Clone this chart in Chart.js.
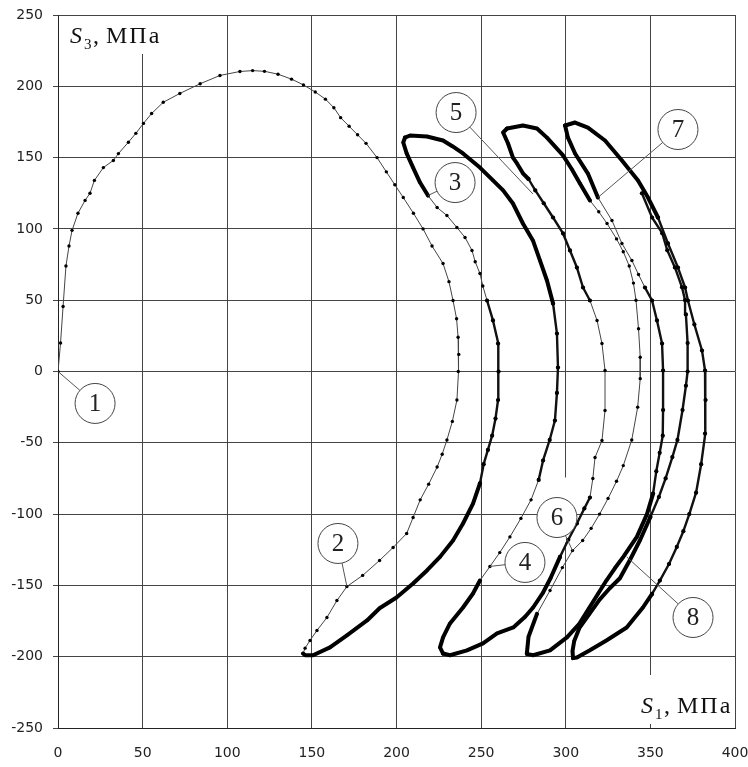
<!DOCTYPE html>
<html><head><meta charset="utf-8">
<script src="https://cdn.jsdelivr.net/npm/chart.js@4.4.0/dist/chart.umd.min.js"></script>
<style>html,body{margin:0;padding:0;background:#fff;}canvas{display:block;}</style>
</head><body>
<canvas id="c" width="748" height="767"></canvas>
<script>
const xTicks = [0,50,100,150,200,250,300,350,400];
const yTicks = [-250,-200,-150,-100,-50,0,50,100,150,200,250];

// Stress path segments [S1, S3]
const seg1 = [[0,0],[1.5,20],[3,45.6],[4.7,74],[6.5,88],[8.3,99],[11.8,111],[16,120],[18.9,125],[21.5,134],[26.8,143],[32.7,148],[35.7,152.8],[41.6,160.8],[46,167],[50.5,174],[55.3,180.9],[62.2,188.8],[72,195],[84,201.8],[95.7,207.6],[107.5,210.4],[115,211],[122,210.5],[130,208.5],[138,205],[145,201],[152,196],[158,191],[163,185],[167,178],[172,172],[177,166],[182,160],[188.5,150],[194,140],[199,131],[204,122],[210,111],[215.7,100],[221,88],[227.5,75.7],[231,63],[233.4,49.8],[235.5,37],[236.4,24],[236.8,12],[236.5,0],[235.7,-20],[233,-35],[229.8,-48],[227,-58],[224,-67],[219,-79],[214,-90],[209.8,-102.4],[206,-113.6],[198,-123.4],[190,-132.5],[180,-143],[170.7,-150.8],[164.8,-160.6],[158.9,-172.5],[153,-181.6],[148.9,-188.6],[146,-194],[144.8,-197.8]];
const seg2 = [[144.8,-197.8],[146,-199],[150.7,-199],[160.7,-193.5],[170.7,-185],[182.6,-174.6],[190,-166],[200,-158.5],[209.8,-148.7],[218,-139.5],[225.7,-130],[233.4,-118.5],[239.3,-106.6],[245.2,-92.6],[249.3,-78.5],[251.5,-65],[254,-55],[256.5,-45],[258.5,-33],[260,-20],[260.3,0],[260,19.6],[257,35.8],[253.5,49.8],[251,60],[249.3,68.7],[246.5,77],[244.6,84.9],[240.5,94],[235.7,101],[229.8,109.4],[224,115],[218.6,123.4],[213.9,132.5],[209.8,143],[206,153],[204,160.6],[205,164]];
const seg3 = [[205,164],[208,165.5],[218,164.8],[227.5,162],[233,158],[239.3,152.9],[249.3,143],[257,134],[263,127],[268.8,117.8],[274.7,103.8],[280.6,91.9],[284.8,77.8],[288.9,63.8],[292.5,47.7],[294.8,26.6],[295.4,2.8],[294.8,-15],[293.6,-34.4],[290.5,-48],[286.6,-62.4],[284,-76],[279.5,-90],[273.5,-103],[267,-116],[261,-127],[255.2,-136.7],[249.3,-146.6],[245.2,-155.7],[239.3,-165.5],[231.6,-176.7],[227.5,-186.5],[225.7,-193.5],[227.5,-197.8]];
const seg4 = [[227.5,-197.8],[231.6,-199],[241.6,-195.6],[251.1,-190.7],[259.4,-183.7],[269,-179.5],[276,-172],[280.7,-165.5],[286.6,-155],[291,-145],[296.6,-130],[301.5,-118],[306.6,-106.6],[311,-96],[314.3,-88.4],[316,-75],[317.3,-60.3],[321.4,-48.4],[323.2,-27.3],[323.2,0.7],[321.4,19.6],[318.5,35.8],[314.3,49.8],[310.2,58.9],[306.6,72.9],[302.5,84.9],[298.4,96.8],[292.5,108],[287,118],[282,127],[278,135],[274.7,139],[271.2,145.9],[268.8,150],[265.9,159.9],[263,167.6],[265.3,170.4]];
const seg5 = [[265.3,170.4],[274.7,172.5],[283,170.4],[288.9,164],[298.4,151.5],[303.5,142],[308.4,131.8],[314.3,119.9],[319.5,112],[324.4,103.8],[330,93],[334,84],[337.5,74],[340,62],[341.5,50],[343,30],[344,10],[344,-5],[342.5,-25],[339,-48],[334,-66],[330,-77],[325,-89],[320,-100],[315,-110],[310,-118.5],[304,-125.6],[298,-137.5],[290.7,-153.6],[283,-170],[278,-186],[277,-198]];
const seg6 = [[277,-198],[280.7,-199],[290.7,-195.6],[300.7,-186.5],[308,-177],[314,-165.5],[319,-156],[324,-146.6],[329,-138],[334,-130],[342,-116],[348,-100],[351.6,-85.6],[353.5,-70],[355.5,-57],[357.3,-45],[357.5,-27],[357.5,0.7],[356.9,19.6],[353.9,35.8],[351,49.8],[346.8,58.9],[343,68],[339.1,77.8],[333.2,89.8],[327.3,105.9],[319,122],[313.1,138.8],[305.5,152.9],[301.3,164],[299.6,172.5]];
const seg7 = [[299.6,172.5],[305.5,174.6],[313.1,171],[323.2,162],[333.2,148],[342.7,134],[348.6,122],[354.5,108],[360.4,89.8],[366.3,72.9],[370.5,58.9],[372.2,49.8],[376,33],[380.5,14.7],[382.3,0.7],[382.6,-20],[382.3,-43.5],[380,-65],[377,-85],[373,-100],[369.5,-112],[365.6,-123],[361,-135],[355.6,-146.6],[351,-156],[345.6,-165.5],[336,-179.5],[324,-188.6],[314,-195.6],[306.6,-200.5],[304.3,-201]];
const seg8 = [[304.3,-201],[304,-196],[305,-189],[308,-180],[314,-170],[320,-160],[326,-152],[332,-145],[338,-132],[344,-118],[350,-102],[355,-88],[359,-75],[363,-60],[366,-48],[369,-27],[371,-10],[372,0],[372,20],[371,40],[370.5,50],[368.7,59],[364.5,73],[360,85],[357,97],[351,108],[345,125]];

// Callout labels: text, circle centre, point on the curve
const labelTexts = ['1','2','3','4','5','6','7','8'];
const labelCentres = [[21.9,-22.4],[165.4,-120.6],[234.6,132.5],[275.9,-133.9],[235.2,181.6],[294.8,-102.4],[366.3,169.7],[375.2,-172.5]];
const labelTargets = [[0,0],[170.7,-150.8],[218.6,123.4],[255.2,-136.7],[280.6,124.5],[304,-125.6],[319,122],[336,-130]];

// styling: index ranges drawn heavy ("thick") or with dense markers
const segments = [seg1,seg2,seg3,seg4,seg5,seg6,seg7,seg8];
const thickRanges = [[],[[0,14],[32,37]],[[0,14],[27,33]],[[0,10],[30,36]],[[0,7],[29,31]],[[0,12],[26,30]],[[0,7],[24,30]],[[0,10]]];
const denseRanges = [[],[[14,23]],[[14,21]],[[10,14],[22,30]],[],[[12,21]],[[7,24]],[[10,26]]];

const SERIF = '"Liberation Serif", "Times New Roman", Times, serif';
const toPts = a => a.map(p => ({x:p[0], y:p[1]}));
const datasets = [];
segments.forEach((s,i) => {
  thickRanges[i].forEach(r => datasets.push({data: toPts(s.slice(r[0], r[1]+1)), showLine:true, borderColor:'#000', borderWidth:4, pointRadius:0, borderJoinStyle:'round', borderCapStyle:'round'}));
  denseRanges[i].forEach(r => datasets.push({data: toPts(s.slice(r[0], r[1]+1)), showLine:true, borderColor:'#111', borderWidth:2.4, pointRadius:2.1, pointBackgroundColor:'#000', pointBorderWidth:0, borderJoinStyle:'round'}));
  datasets.push({data: toPts(s), showLine:true, borderColor:'#444', borderWidth:1, pointRadius:1.7, pointBackgroundColor:'#000', pointBorderWidth:0});
});

const annot = {
  id:'annot',
  beforeDatasetsDraw(chart){
    const c = chart.ctx, a = chart.chartArea, xs = chart.scales.x, ys = chart.scales.y;
    c.save(); c.fillStyle = '#fff';
    c.fillRect(a.left+4, a.top+1, 106, 38);
    c.fillRect(a.right-110, a.bottom-53, 109, 49);
    const px = xs.getPixelForValue(labelCentres[5][0]), py = ys.getPixelForValue(labelCentres[5][1]);
    c.fillRect(px-20, py-40, 40, 65);
    c.restore();
  },
  afterDatasetsDraw(chart){
    const c = chart.ctx, a = chart.chartArea, xs = chart.scales.x, ys = chart.scales.y;
    const R = 20;
    c.save();
    labelTexts.forEach((t,i) => {
      const cx = xs.getPixelForValue(labelCentres[i][0]), cy = ys.getPixelForValue(labelCentres[i][1]);
      const tx = xs.getPixelForValue(labelTargets[i][0]), ty = ys.getPixelForValue(labelTargets[i][1]);
      const d = Math.hypot(tx-cx, ty-cy);
      c.strokeStyle = '#555'; c.lineWidth = 1;
      c.beginPath(); c.moveTo(cx+(tx-cx)/d*R, cy+(ty-cy)/d*R); c.lineTo(tx, ty); c.stroke();
      c.beginPath(); c.arc(cx, cy, R, 0, Math.PI*2); c.fillStyle = '#fff'; c.fill();
      c.strokeStyle = '#444'; c.stroke();
      c.fillStyle = '#222'; c.font = '25px ' + SERIF; c.textAlign = 'center'; c.textBaseline = 'middle';
      c.fillText(t, cx, cy+1);
    });
    // axis titles
    c.textAlign = 'left'; c.textBaseline = 'alphabetic'; c.fillStyle = '#111';
    const title = (x, y, sub) => {
      c.font = 'italic 24px ' + SERIF; c.fillText('S', x, y);
      c.font = '15px ' + SERIF; c.fillText(sub, x+14, y+6);
      c.font = '24px ' + SERIF; c.fillText(',', x+23, y);
      try { c.letterSpacing = '2px'; } catch(e) {}
      c.fillText('МПа', x+36, y);
      try { c.letterSpacing = '0px'; } catch(e) {}
    };
    title(a.left+12, a.top+28, '3');
    title(a.right-94, a.bottom-15, '1');
    c.restore();
  }
};

new Chart(document.getElementById('c'), {
  type:'scatter',
  data:{datasets},
  options:{
    responsive:false, animation:false, devicePixelRatio:1,
    layout:{padding:{top:15, right:13, left:0, bottom:0}},
    plugins:{legend:{display:false}, tooltip:{enabled:false}},
    scales:{
      x:{type:'linear', min:0, max:400,
        afterBuildTicks: s => { s.ticks = xTicks.map(v => ({value:v})); },
        afterFit: s => { s.height = 39; s.paddingLeft = 0; s.paddingRight = 0; },
        ticks:{font:{family:'DejaVu Sans', size:14}, color:'#222', padding:17, maxRotation:0, autoSkip:false},
        grid:{color:'#444', lineWidth:1, drawTicks:false},
        border:{color:'#222', width:1}},
      y:{type:'linear', min:-250, max:250,
        afterBuildTicks: s => { s.ticks = yTicks.map(v => ({value:v})); },
        afterFit: s => { s.width = 58; s.paddingTop = 0; s.paddingBottom = 0; },
        ticks:{font:{family:'DejaVu Sans', size:14}, color:'#222', padding:10, autoSkip:false},
        grid:{color:'#444', lineWidth:1, drawTicks:true, tickLength:5},
        border:{color:'#222', width:1}}
    }
  },
  plugins:[annot]
});
</script>
</body></html>
